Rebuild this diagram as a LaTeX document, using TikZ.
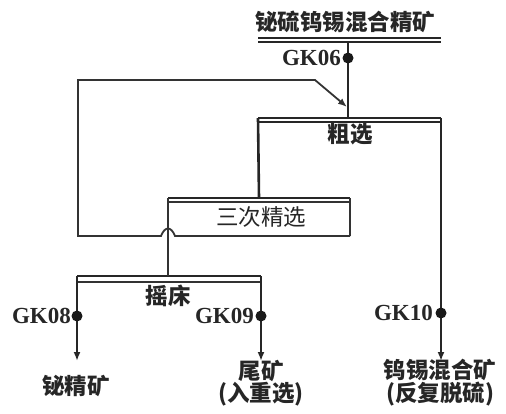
\documentclass[tikz,border=0pt]{standalone}
\usepackage{fontspec}
\setmainfont{Liberation Serif}
\newfontfamily\cjk{Noto Sans CJK SC}
\usetikzlibrary{arrows.meta}
\begin{document}
\begin{tikzpicture}[x=1pt,y=-1pt,
  main/.style={line width=2.6pt,draw=black!85},
  thin/.style={line width=1.8pt,draw=black!80},
  bar/.style={line width=1.9pt,draw=black!85},
  arr/.style={-{Latex[length=9pt,width=7pt]}},
  cn/.style={font=\cjk\bfseries\fontsize{22.5}{21}\selectfont,inner sep=0pt,text=black!85,align=center},
  cnl/.style={font=\cjk\fontsize{22.5}{24}\selectfont,inner sep=0pt,text=black!85},
  gk/.style={font=\bfseries\fontsize{23}{25}\selectfont,inner sep=0pt,anchor=east,text=black!85},
  dot/.style={circle,fill=black!90,inner sep=0pt,minimum size=11pt}]
\useasboundingbox (0,0) rectangle (506,413);
% feed
\node[cn] (feed) at (345,22) {铋硫钨锡混合精矿};
\coordinate (fL) at (258,38); \coordinate (fR) at (441,38);
\coordinate (fL2) at (258,42); \coordinate (fR2) at (441,42);
\draw[bar] (fL) -- (fR); \draw[bar] (fL2) -- (fR2);
\coordinate (fO) at (348,42);
% roughing
\coordinate (rL) at (258,118); \coordinate (rR) at (441,118);
\coordinate (rL2) at (258,122); \coordinate (rR2) at (441,122);
\coordinate (rIn) at (348,118);
\draw[bar] (rL) -- (rR); \draw[bar] (rL2) -- (rR2);
\node[cn] (rough) at (350,134) {粗选};
\draw[main] (fO) -- (rIn);
\node[dot] (d06) at (348,58) {};
\node[gk] (gk06) at (341,58) {GK06};
% cleaner
\coordinate (cL) at (168,198); \coordinate (cR) at (350,198);
\coordinate (cL2) at (168,202); \coordinate (cR2) at (350,202);
\draw[bar] (cL) -- (cR); \draw[thin] (cL2) -- (cR2);
\node[cnl] (clean) at (261,217) {三次精选};
\draw[main] (rL) -- (259,198);
\coordinate (cB) at (350,236);
\draw[thin] (cR) -- (cB);
% recycle of cleaner tailings
\coordinate (h1) at (175,236); \coordinate (h2) at (161,236);
\coordinate (k1) at (78,236); \coordinate (k2) at (78,80);
\coordinate (k3) at (315,80); \coordinate (k4) at (347,107);
\draw[thin,arr] (cB) -- (h1) .. controls (171,226) and (165,226) .. (h2) -- (k1) -- (k2) -- (k3) -- (k4);
% shaking table
\coordinate (sL) at (77,276); \coordinate (sR) at (261,276);
\coordinate (sL2) at (77,282); \coordinate (sR2) at (261,282);
\coordinate (sIn) at (168,276);
\draw[bar] (sL) -- (sR); \draw[thin] (sL2) -- (sR2);
\draw[thin] (cL) -- (sIn);
\node[cn] (table) at (168,296) {摇床};
% outputs
\node[cn] (bi) at (76,386) {铋精矿};
\node[cn] (tail) at (261,383) {尾矿\\(入重选)};
\node[cn] (wsn) at (440,383) {钨锡混合矿\\(反复脱硫)};
\coordinate (o1) at (77,361); \coordinate (o2) at (261,361); \coordinate (o3) at (441,361);
\draw[main,arr] (sL) -- (o1);
\draw[main,arr] (sR) -- (o2);
\draw[main,arr] (rR) -- (o3);
\node[dot] (d08) at (77,316) {};
\node[gk] (gk08) at (71,316) {GK08};
\node[dot] (d09) at (261,316) {};
\node[gk] (gk09) at (254,316) {GK09};
\node[dot] (d10) at (441,313) {};
\node[gk] (gk10) at (433,313) {GK10};
\end{tikzpicture}
\end{document}
